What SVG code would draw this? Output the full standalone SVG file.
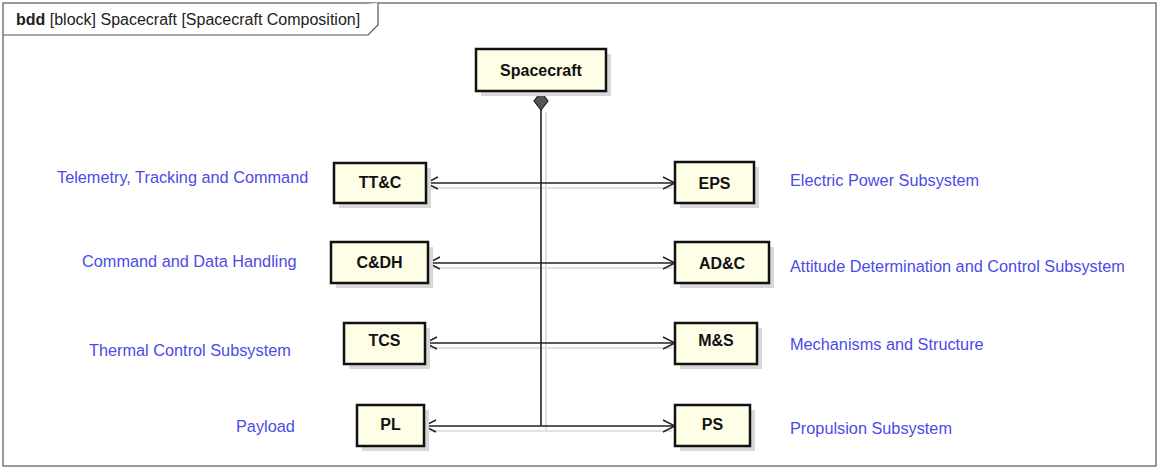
<svg xmlns="http://www.w3.org/2000/svg" width="1160" height="469" viewBox="0 0 1160 469">
<style>
.frame{fill:#fff;stroke:#555;stroke-width:1.2}
.box{fill:#fefee6;stroke:#111;stroke-width:2.5}
.shadow{fill:#d8d8d8}
.bt{font-family:"Liberation Sans",Arial,sans-serif;font-weight:bold;font-size:16px;fill:#111;text-anchor:middle}
.lbl{font-family:"Liberation Sans",Arial,sans-serif;font-size:16.3px;fill:#4b4be6}
.title{font-family:"Liberation Sans",Arial,sans-serif;font-size:16px;fill:#222}
.conn{fill:none;stroke:#222;stroke-width:1.6}
.cshadow{fill:none;stroke:#e2e2e2;stroke-width:2}
</style>
<defs>
<marker id="open" viewBox="0 0 14 14" refX="13" refY="7" markerWidth="14" markerHeight="14" markerUnits="userSpaceOnUse" orient="auto-start-reverse">
<path d="M1,1 L13,7 L1,13" fill="none" stroke="#222" stroke-width="1.4"/>
</marker>
</defs>
<rect width="1160" height="469" fill="#fff"/>
<g id="frame">
<rect class="frame" x="3" y="3" width="1153" height="463"/>
<path class="frame" d="M3,35 L368,35 L378,25 L378,3" fill="none"/>
<text class="title" x="16" y="25"><tspan font-weight="bold">bdd</tspan> [block] Spacecraft [Spacecraft Composition]</text>
</g>
<g id="connectors">
<g class="cshadow">
<path d="M546,112 L546,431"/>
<path d="M430,188 L672,188"/>
<path d="M432,268 L672,268"/>
<path d="M429,348 L672,348"/>
<path d="M428,431 L672,431"/>
</g>
<path class="conn" d="M541,110 L541,426"/>
<path d="M541,92 L548,101 L541,110 L534,101 Z" fill="#555" stroke="#222" stroke-width="1.2"/>
<path class="conn" d="M426,183 L675,183" marker-start="url(#open)" marker-end="url(#open)"/>
<path class="conn" d="M428,263 L675,263" marker-start="url(#open)" marker-end="url(#open)"/>
<path class="conn" d="M425,343 L675,343" marker-start="url(#open)" marker-end="url(#open)"/>
<path class="conn" d="M424,426 L675,426" marker-start="url(#open)" marker-end="url(#open)"/>
</g>
<g id="spacecraft">
<rect class="shadow" x="481" y="54" width="130" height="42"/>
<rect class="box" x="476" y="49" width="130" height="42"/>
<text class="bt" x="541" y="76">Spacecraft</text>
</g>
<g id="ttc">
<rect class="shadow" x="339" y="168" width="92" height="40"/>
<rect class="box" x="334" y="163" width="92" height="40"/>
<text class="bt" x="380" y="188">TT&amp;C</text>
</g>
<g id="eps">
<rect class="shadow" x="680" y="167" width="79" height="41"/>
<rect class="box" x="675" y="162" width="79" height="41"/>
<text class="bt" x="714.5" y="189">EPS</text>
</g>
<g id="cdh">
<rect class="shadow" x="336" y="247" width="97" height="41"/>
<rect class="box" x="331" y="242" width="97" height="41"/>
<text class="bt" x="379.5" y="268">C&amp;DH</text>
</g>
<g id="adc">
<rect class="shadow" x="680" y="247" width="94" height="41"/>
<rect class="box" x="675" y="242" width="94" height="41"/>
<text class="bt" x="722" y="269">AD&amp;C</text>
</g>
<g id="tcs">
<rect class="shadow" x="349" y="328" width="81" height="41"/>
<rect class="box" x="344" y="323" width="81" height="41"/>
<text class="bt" x="384.5" y="346">TCS</text>
</g>
<g id="ms">
<rect class="shadow" x="680" y="328" width="82" height="41"/>
<rect class="box" x="675" y="323" width="82" height="41"/>
<text class="bt" x="716" y="346">M&amp;S</text>
</g>
<g id="pl">
<rect class="shadow" x="362" y="410" width="67" height="41"/>
<rect class="box" x="357" y="405" width="67" height="41"/>
<text class="bt" x="390.5" y="430">PL</text>
</g>
<g id="ps">
<rect class="shadow" x="680" y="410" width="75" height="41"/>
<rect class="box" x="675" y="405" width="75" height="41"/>
<text class="bt" x="712.5" y="430">PS</text>
</g>
<g id="labels">
<text class="lbl" x="57" y="183">Telemetry, Tracking and Command</text>
<text class="lbl" x="82" y="267">Command and Data Handling</text>
<text class="lbl" x="89" y="356">Thermal Control Subsystem</text>
<text class="lbl" x="236" y="432">Payload</text>
<text class="lbl" x="790" y="186">Electric Power Subsystem</text>
<text class="lbl" x="790" y="272">Attitude Determination and Control Subsystem</text>
<text class="lbl" x="790" y="350">Mechanisms and Structure</text>
<text class="lbl" x="790" y="434">Propulsion Subsystem</text>
</g>
</svg>
